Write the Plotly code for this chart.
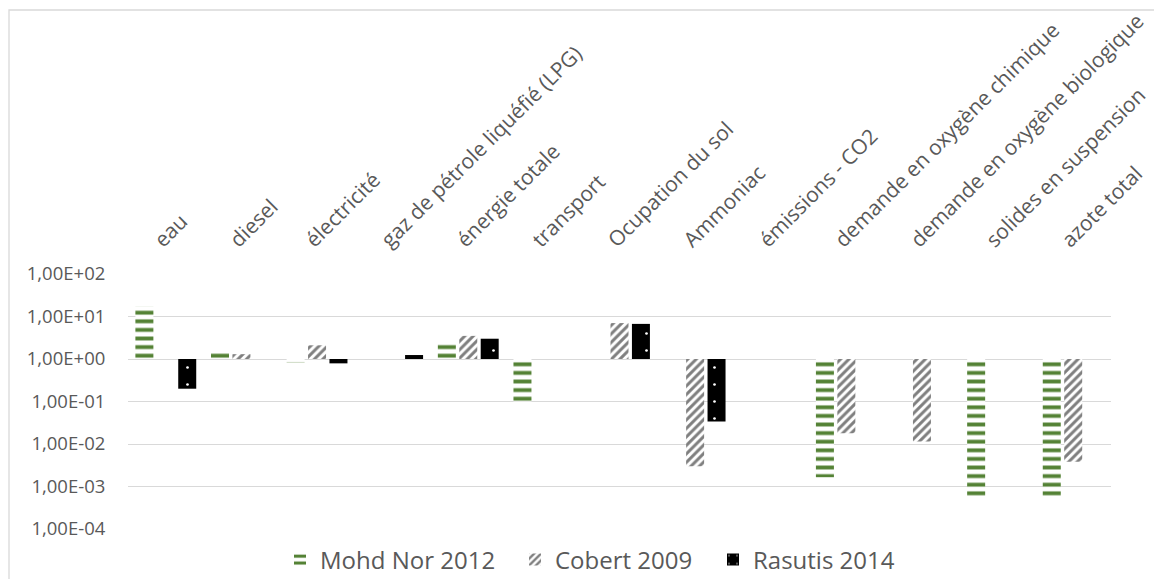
import plotly.graph_objects as go

categories = ["eau", "diesel", "électricité", "gaz de pétrole liquéfié (LPG)",
              "énergie totale", "transport", "Ocupation du sol", "Ammoniac",
              "émissions - CO2", "demande en oxygène chimique",
              "demande en oxygène biologique", "solides en suspension", "azote total"]

mohd_nor_2012 = [17, 1.6, 0.83, None, 2.3, 0.1, None, None, None, 1.65e-3, None, 5.4e-4, 5.4e-4]
cobert_2009 = [None, 1.3, 2.1, None, 3.5, None, 7.0, 3.0e-3, None, 0.018, 0.0115, None, 3.8e-3]
rasutis_2014 = [0.2, None, 0.79, 1.24, 3.0, None, 6.7, 0.034, None, None, None, None, None]

y_tick_vals = [1e-4, 1e-3, 1e-2, 1e-1, 1e0, 1e1, 1e2]
y_tick_text = ["1,00E-04", "1,00E-03", "1,00E-02", "1,00E-01", "1,00E+00", "1,00E+01", "1,00E+02"]

FONT = "Open Sans"
TXT = "#595959"

# the page body adds an 8 px offset; the figure is sized to fill the rest of the window
W, H = 1154, 571


def rel(vals):
    return [None if v is None else v - 1 for v in vals]


fig = go.Figure()
fig.add_trace(go.Bar(
    name="Mohd Nor 2012", x=categories, y=rel(mohd_nor_2012), base=1, legendwidth=190,
    marker=dict(color="#548235", line=dict(width=0),
                pattern=dict(shape="-", fgcolor="#548235", bgcolor="white",
                             size=8.6, solidity=0.45, fillmode="replace")),
))
fig.add_trace(go.Bar(
    name="Cobert 2009", x=categories, y=rel(cobert_2009), base=1, legendwidth=153,
    marker=dict(color="#7f7f7f", line=dict(width=0),
                pattern=dict(shape="/", fgcolor="#7f7f7f", bgcolor="white",
                             size=6, solidity=0.5, fillmode="replace")),
))
fig.add_trace(go.Bar(
    name="Rasutis 2014", x=categories, y=rel(rasutis_2014), base=1,
    marker=dict(color="black", line=dict(width=0),
                pattern=dict(shape=".", fgcolor="white", bgcolor="black",
                             size=17, solidity=0.02, fillmode="replace")),
))

fig.update_layout(
    width=W, height=H,
    margin=dict(l=120, r=51, t=266, b=50, autoexpand=False),
    paper_bgcolor="white", plot_bgcolor="white",
    barmode="group", bargap=0.15, bargroupgap=0.16,
    font=dict(family=FONT, color=TXT),
    showlegend=True,
    legend=dict(orientation="h", xref="container", yref="container",
                x=272 / W, xanchor="left", y=(H - 552) / H, yanchor="middle",
                font=dict(size=24, color=TXT, family=FONT), bgcolor="rgba(0,0,0,0)"),
    xaxis=dict(side="top", type="category", categoryorder="array", categoryarray=categories,
               range=[-0.5, len(categories) - 0.5], automargin=False,
               tickangle=-45, showgrid=False, showline=False, zeroline=False,
               ticks="outside", ticklen=13, tickcolor="rgba(0,0,0,0)",
               ticklabelshift=-10,
               tickfont=dict(size=21, color=TXT, family=FONT)),
    yaxis=dict(type="log", range=[-4, 2], tickvals=y_tick_vals, ticktext=y_tick_text,
               automargin=False,
               showgrid=True, gridcolor="#d9d9d9", gridwidth=1.3,
               showline=False, zeroline=False,
               ticks="outside", ticklen=18, tickcolor="rgba(0,0,0,0)",
               tickfont=dict(size=18.5, color=TXT, family=FONT)),
    shapes=[dict(type="rect", xref="paper", yref="paper",
                 x0=(9 - 128) / 983, x1=(1175 - 128) / 983,
                 y0=(529 - 600) / 255, y1=(529 - 10) / 255,
                 line=dict(color="#d9d9d9", width=1.3), fillcolor="rgba(0,0,0,0)", layer="below")],
)

fig.write_html("out.html")
